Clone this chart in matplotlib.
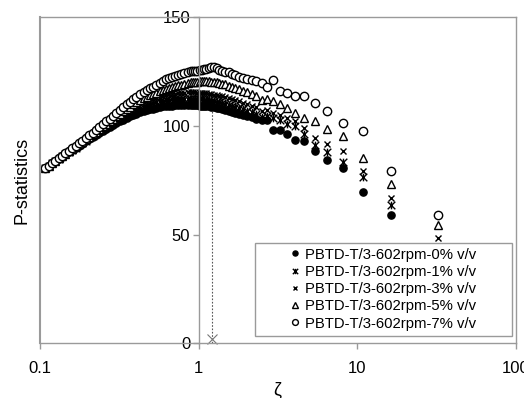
import numpy as np
import matplotlib
matplotlib.use("Agg")
import matplotlib.pyplot as plt
from matplotlib.path import Path
from matplotlib.patches import Rectangle
from matplotlib.ticker import NullLocator

plt.rcParams['font.family'] = ['Liberation Sans', 'DejaVu Sans']

nan = np.nan
zeta = [0.108, 0.1133, 0.1191, 0.1251, 0.1312, 0.1379, 0.1446, 0.1521, 0.1596, 0.1679,
        0.1761, 0.1851, 0.1940, 0.2038, 0.2146, 0.2250, 0.2365, 0.2492, 0.2613, 0.2746,
        0.2893, 0.3028, 0.3176, 0.3340, 0.3522, 0.3682, 0.3857, 0.4050, 0.4263, 0.4500,
        0.4696, 0.4909, 0.5143, 0.5400, 0.5684, 0.6000, 0.6231, 0.6480, 0.6750, 0.7043,
        0.7364, 0.7714, 0.8100, 0.8526, 0.9000, 0.9257, 0.9529, 0.9818, 1.0125, 1.0452,
        1.0800, 1.1172, 1.1571, 1.2000, 1.2462, 1.2960, 1.3500, 1.4087, 1.4727, 1.5429,
        1.620, 1.705, 1.800, 1.906, 2.025, 2.160, 2.314, 2.492, 2.700, 2.945,
        3.240, 3.600, 4.050, 4.629, 5.400, 6.480, 8.100, 10.80, 16.20, 32.40]

p0 = [80.6, 81.6, 82.7, 83.8, 84.8, 85.8, 86.8, 87.8, 88.8, 89.8,
      90.8, 91.8, 92.8, 93.8, 94.8, 95.8, 96.7, 97.7, 98.6, 99.5,
      100.4, 101.2, 102.0, 102.8, 103.6, 104.3, 104.9, 105.5, 106.1, 106.7,
      107.1, 107.5, 107.9, 108.3, 108.6, 108.9, 109.1, 109.2, 109.3, 109.4,
      109.5, 109.5, 109.6, 109.6, 109.5, 109.5, 109.4, 109.4, 109.3, 109.2,
      109.1, 109.0, 108.9, 108.7, 108.5, 108.3, 108.0, 107.7, 107.3, 106.9,
      106.5, 106.0, 105.6, 105.1, 104.6, 104.0, 103.3, 102.6, 102.5, 98.1,
      98.1, 96.3, 93.6, 92.8, 88.2, 84.4, 80.5, 69.5, 59.0, nan]
p1 = [80.6, 81.6, 82.7, 83.8, 84.8, 85.9, 86.9, 87.9, 88.9, 90.0,
      91.0, 92.1, 93.1, 94.2, 95.3, 96.3, 97.4, 98.5, 99.5, 100.5,
      101.6, 102.5, 103.4, 104.4, 105.3, 106.1, 106.8, 107.6, 108.3, 109.0,
      109.5, 110.0, 110.4, 110.9, 111.2, 111.6, 111.8, 112.0, 112.2, 112.3,
      112.4, 112.5, 112.5, 112.5, 112.4, 112.4, 112.3, 112.3, 112.2, 112.1,
      112.0, 111.8, 111.7, 111.5, 111.3, 111.0, 110.8, 110.4, 110.1, 109.6,
      109.2, 108.7, 108.2, 107.6, 107.0, 106.3, 105.6, 104.2, 104.5, 103.5,
      102.8, 101.0, 100.0, 96.0, 91.0, 88.0, 83.5, 76.5, 63.6, nan]
p3 = [80.6, 81.6, 82.7, 83.8, 84.9, 86.0, 87.0, 88.1, 89.2, 90.3,
      91.3, 92.4, 93.5, 94.6, 95.7, 96.8, 97.9, 99.0, 100.1, 101.2,
      102.4, 103.3, 104.3, 105.4, 106.4, 107.3, 108.2, 109.0, 109.9, 110.7,
      111.3, 111.9, 112.4, 112.9, 113.4, 113.8, 114.1, 114.4, 114.6, 114.8,
      115.0, 115.1, 115.2, 115.3, 115.3, 115.3, 115.3, 115.2, 115.2, 115.1,
      115.0, 114.9, 114.7, 114.5, 114.3, 114.1, 113.8, 113.5, 113.1, 112.7,
      112.2, 111.7, 111.2, 110.6, 110.0, 109.3, 108.6, 106.6, 107.4, 106.0,
      105.1, 103.5, 102.2, 98.9, 94.5, 91.5, 88.3, 79.0, 66.8, 48.5]
p5 = [80.6, 81.7, 82.8, 83.9, 85.0, 86.1, 87.2, 88.3, 89.4, 90.5,
      91.6, 92.7, 93.8, 95.0, 96.2, 97.3, 98.5, 99.7, 100.8, 102.0,
      103.3, 104.3, 105.4, 106.6, 107.8, 108.8, 109.8, 110.8, 111.7, 112.6,
      113.3, 114.0, 114.6, 115.2, 115.9, 116.5, 117.0, 117.4, 117.8, 118.2,
      118.6, 118.9, 119.3, 119.7, 120.0, 120.1, 120.2, 120.3, 120.4, 120.5,
      120.5, 120.5, 120.4, 120.3, 120.2, 120.0, 119.8, 119.4, 119.0, 118.5,
      118.0, 117.4, 116.9, 116.2, 115.4, 114.6, 113.6, 111.8, 112.2, 111.4,
      110.0, 108.0, 105.8, 103.8, 102.4, 98.6, 95.1, 85.0, 73.3, 54.4]
p7 = [80.6, 81.7, 82.8, 84.0, 85.1, 86.3, 87.4, 88.6, 89.7, 90.9,
      92.0, 93.2, 94.4, 95.6, 96.9, 98.1, 99.4, 100.7, 102.0, 103.3,
      104.7, 106.0, 107.3, 108.5, 109.8, 111.0, 112.1, 113.3, 114.4, 115.5,
      116.3, 117.2, 118.0, 118.8, 119.7, 120.6, 121.3, 121.9, 122.5, 123.0,
      123.5, 123.9, 124.3, 124.7, 125.0, 125.2, 125.3, 125.4, 125.5, 125.7,
      125.9, 126.2, 126.5, 127.0, 127.2, 126.4, 125.8, 125.3, 124.9, 124.5,
      124.0, 123.3, 122.6, 122.0, 121.4, 120.9, 120.4, 119.8, 117.8, 121.2,
      116.2, 115.0, 113.9, 113.5, 110.4, 106.9, 101.5, 97.7, 79.3, 59.1]

labels = ['PBTD-T/3-602rpm-0% v/v', 'PBTD-T/3-602rpm-1% v/v',
          'PBTD-T/3-602rpm-3% v/v', 'PBTD-T/3-602rpm-5% v/v',
          'PBTD-T/3-602rpm-7% v/v']
zeta_c = 1.22
p_c = 108

# x with a vertical bar (excel "star")
star = Path([(-1, -1), (1, 1), (-1, 1), (1, -1), (0, -1), (0, 1)],
            [Path.MOVETO, Path.LINETO, Path.MOVETO, Path.LINETO, Path.MOVETO, Path.LINETO])

gray = '#9a9a9a'
fig = plt.figure(figsize=(5.24, 3.98), dpi=100)
ax = fig.add_axes([40/524, 1-343.3/398, 476/524, 326.3/398])
ax.set_xscale('log')
ax.set_xlim(0.1, 100)
ax.set_ylim(0, 150)

ax.plot([zeta_c, zeta_c], [0, p_c], ls=(0, (1.5, 1.5)), color='#555555', lw=0.8, zorder=1)
ax.plot([zeta_c], [2], marker='x', ms=7, color='#777777', mew=0.8, ls='none', clip_on=False)

h0, = ax.plot(zeta, p0, 'o', ms=5.2, color='black', mew=1.0, label=labels[0])
h1, = ax.plot(zeta, p1, marker=star, ls='none', ms=5.5, color='black', mew=1.0,
              fillstyle='none', label=labels[1])
h3, = ax.plot(zeta, p3, 'x', ms=5, color='black', mew=1.0, label=labels[2])
h5, = ax.plot(zeta, p5, '^', ms=5.2, mfc='white', mec='black', mew=1.0, label=labels[3])
h7, = ax.plot(zeta, p7, 'o', ms=6, mfc='white', mec='black', mew=1.0, label=labels[4])

for s in ['top', 'right', 'bottom', 'left']:
    ax.spines[s].set_color(gray)
    ax.spines[s].set_linewidth(1)
ax.spines['left'].set_position(('data', 1))
ax.axvline(0.1, color=gray, lw=1.5, clip_on=False)

ax.set_xticks([0.1, 1, 10, 100])
ax.set_xticklabels(['0.1', '1', '10', '100'])
ax.xaxis.set_minor_locator(NullLocator())
ax.set_yticks([0, 50, 100, 150])
ax.tick_params(axis='x', direction='out', length=4, width=1, color=gray, pad=9, labelsize=12)
ax.tick_params(axis='y', direction='out', length=4, width=1, color=gray, pad=2, labelsize=12)

fig.text(22/524, 1-180/398, 'P-statistics', rotation=90, ha='center', va='center', fontsize=13)
fig.text(277/524, 1-390/398, 'ζ', ha='center', va='center', fontsize=13)

box = Rectangle((255/524, 1-336/398), 257/524, 93/398, transform=fig.transFigure,
                facecolor='white', edgecolor=gray, lw=1, zorder=4)
fig.add_artist(box)
leg = fig.legend([h0, h1, h3, h5, h7], labels, loc='upper left',
                 bbox_to_anchor=(288/524, 1-247.5/398), bbox_transform=fig.transFigure,
                 frameon=False, fontsize=10.7, borderpad=0, borderaxespad=0,
                 handlelength=0.95, handletextpad=0.2, labelspacing=0.22, markerscale=0.7)
leg.set_zorder(5)

fig.savefig('out.png', dpi=100)
